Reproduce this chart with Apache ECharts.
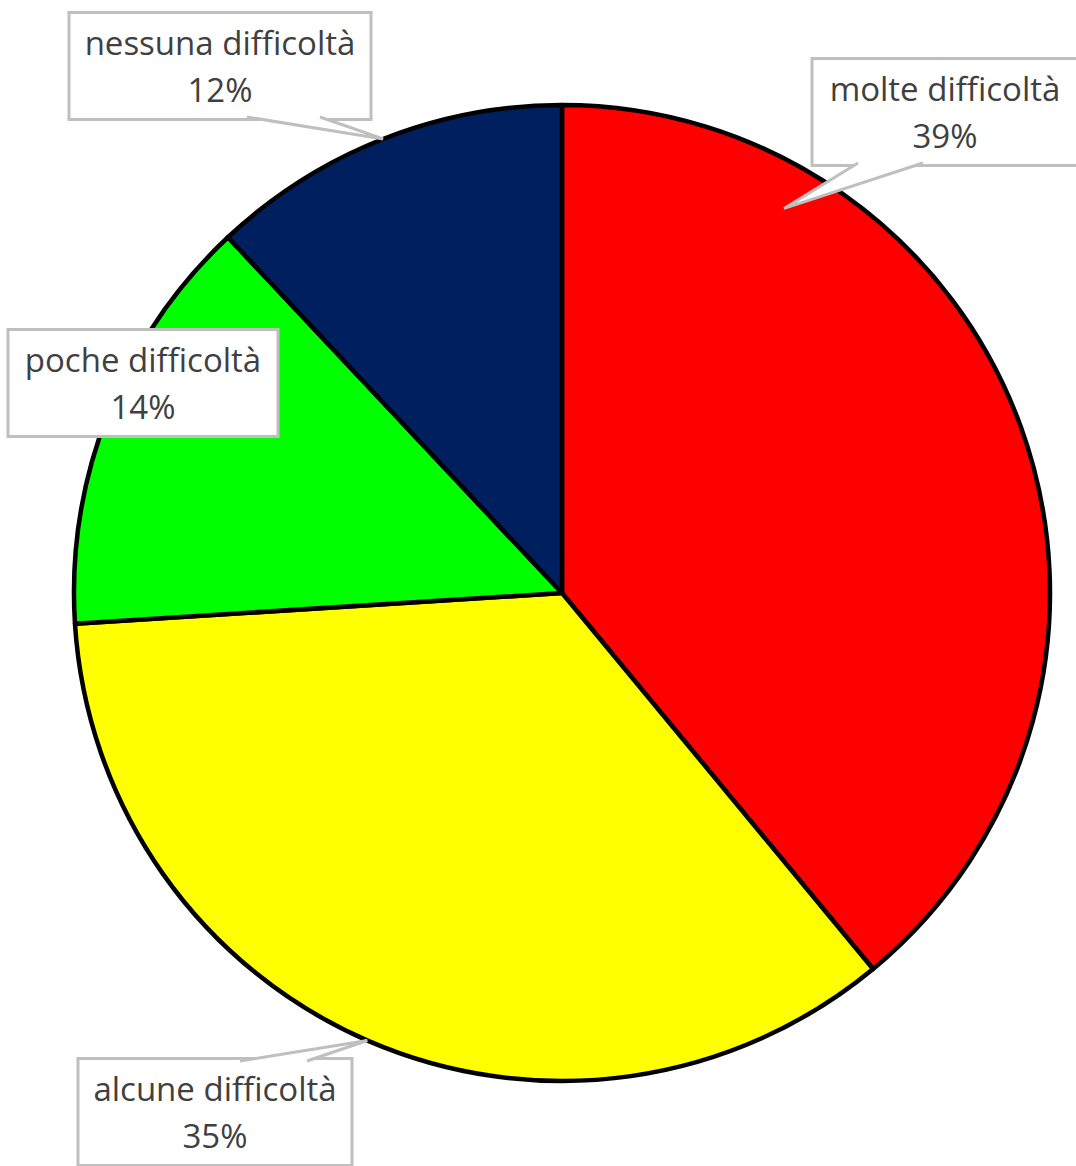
<!DOCTYPE html>
<html><head><meta charset="utf-8">
<script src="https://cdn.jsdelivr.net/npm/echarts@6/dist/echarts.min.js"></script>
<style>html,body{margin:0;padding:0;background:#fff}#c{width:1076px;height:1166px}#c text{font-variant-ligatures:none;font-feature-settings:"liga" 0}</style>
</head><body><div id="c"></div>
<script>
const categories = ['molte difficoltà', 'alcune difficoltà', 'poche difficoltà', 'nessuna difficoltà'];
const values = [39, 35, 14, 12];
const colors = ['#ff0000', '#ffff00', '#00ff00', '#001f5f'];

// layout of the callout boxes (centre, content width), pointer base offsets relative to box centre,
// and pointer tip as (clockwise angle from top in degrees, fraction of radius)
const CX = 562, CY = 593, R = 488;
const labelPos = [[945, 112], [215, 1112], [143, 383], [220, 66]];
const labelWidth = [233, 241, 237, 269];
const pointerBase = [[[-87, 51], [-22, 51]], [[25, -51], [92, -51]], null, [[27, 51], [100, 51]]];
const pointerTip = [[30, 0.91], [203.5, 1.0], null, [-21.5, 1.0]];

const chart = echarts.init(document.getElementById('c'), null, { renderer: 'svg' });
chart.setOption({
  animation: false,
  series: [{
    type: 'pie',
    center: [CX, CY],
    radius: R,
    startAngle: 90,
    clockwise: true,
    data: categories.map((n, i) => ({
      name: n, value: values[i],
      itemStyle: { color: colors[i] },
      labelLine: { show: pointerTip[i] !== null }
    })),
    itemStyle: { borderColor: '#000', borderWidth: 4.5 },
    label: {
      show: true,
      position: 'outside',
      overflow: 'none',
      edgeDistance: 0,
      formatter: p => '{a|' + p.name + '}\n{a|' + p.value + '%}',
      rich: { a: { fontFamily: 'Open Sans', fontSize: 33, lineHeight: 47, color: '#404040', align: 'center' } },
      backgroundColor: '#fff',
      borderColor: '#bfbfbf',
      borderWidth: 3,
      padding: [5, 15, 5, 15]
    },
    labelLine: { show: true, lineStyle: { color: '#bfbfbf', width: 3 }, length: 20, length2: 0, smooth: false },
    labelLayout: p => {
      const i = p.dataIndex;
      const [x, y] = labelPos[i];
      const out = { x, y, width: labelWidth[i], align: 'center', verticalAlign: 'middle' };
      if (pointerTip[i]) {
        const a = pointerTip[i][0] * Math.PI / 180, r = R * pointerTip[i][1];
        const tip = [CX + r * Math.sin(a), CY - r * Math.cos(a)];
        const b = pointerBase[i];
        out.labelLinePoints = [[x + b[0][0], y + b[0][1]], tip, [x + b[1][0], y + b[1][1]]];
      }
      return out;
    }
  }]
});

// draw the callout pointers above the slices, filled white like the original callouts
try {
  const data = chart.getModel().getSeriesByIndex(0).getData();
  for (let i = 0; i < categories.length; i++) {
    const el = data.getItemGraphicEl(i);
    const line = el && el.getTextGuideLine && el.getTextGuideLine();
    if (line && pointerTip[i]) {
      line.z2 = 1000;
      line.setStyle({ fill: '#ffffff' });
      line.dirty();
    }
  }
  chart.getZr().refreshImmediately();
} catch (e) {}
</script></body></html>
